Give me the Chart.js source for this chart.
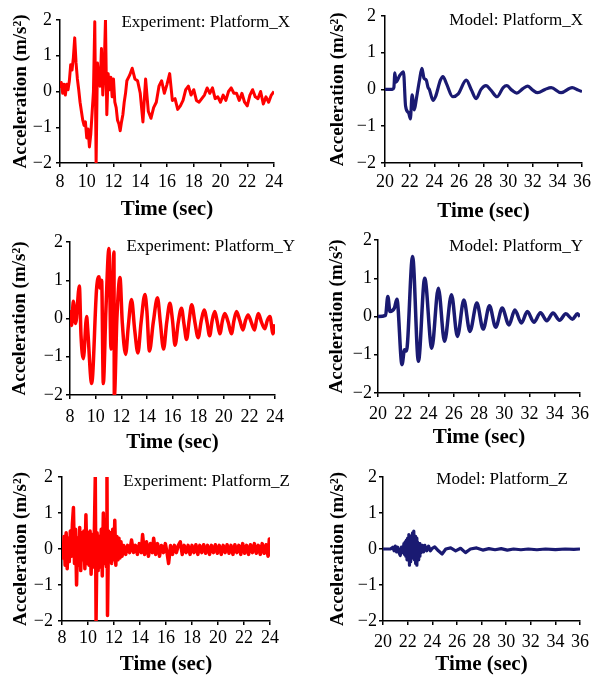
<!DOCTYPE html>
<html>
<head>
<meta charset="utf-8">
<script src="https://cdn.jsdelivr.net/npm/chart.js@4.4.0/dist/chart.umd.min.js"></script>
<style>
  html, body { margin: 0; padding: 0; background: #fff; }
  #wrap { position: relative; width: 595px; height: 680px; }
  canvas { position: absolute; }
</style>
</head>
<body>
<div id="wrap"></div>
<script>
// --- data ---
const expTicks = [8, 10, 12, 14, 16, 18, 20, 22, 24];
const modelTicks = [20, 22, 24, 26, 28, 30, 32, 34, 36];
const accelTicks = [-2, -1, 0, 1, 2];

const expXTime = [8.0,8.1,8.2,8.3,8.4,8.5,8.6,8.7,8.8,8.9,9.0,9.1,9.2,9.3,9.4,9.5,9.6,9.7,9.8,9.9,10.0,10.1,10.2,10.3,10.4,10.5,10.6,10.7,10.8,10.9,11.0,11.1,11.2,11.3,11.4,11.5,11.6,11.7,11.8,11.9,12.0,12.1,12.2,12.3,12.4,12.5,12.6,12.7,12.8,12.9,13.0,
  13.2,13.4,13.6,13.8,14.0,14.2,14.4,14.6,14.8,15.0,15.2,15.4,15.6,15.8,16.0,16.2,16.4,16.6,16.8,17.0,17.2,17.4,17.6,17.8,18.0,18.2,18.4,18.6,18.8,19.0,19.2,19.4,19.6,19.8,20.0,20.2,20.4,20.6,20.8,21.0,21.2,21.4,21.6,21.8,22.0,22.2,22.4,22.6,22.8,23.0,23.2,23.4,23.6,23.8,24.0];
const expXAccel = [0.1,0.25,-0.05,0.2,-0.1,0.2,0.05,0.3,0.75,0.6,0.95,1.5,0.8,0.35,0.05,-0.3,-0.55,-0.8,-0.95,-0.85,-1.3,-1.05,-1.55,-1.2,-0.6,0.0,1.95,-2.0,0.8,0.35,0.15,1.2,-0.1,0.6,2.0,-0.65,0.5,0.05,0.4,-0.15,0.35,-0.3,-0.45,-0.8,-0.9,-1.1,-0.85,-0.65,-0.3,-0.05,0.3,
  0.45,0.65,0.35,0.3,-0.05,-0.85,0.35,-0.55,-0.75,-0.45,-0.3,0.15,0.3,-0.05,0.2,0.5,-0.25,-0.2,-0.5,-0.4,-0.25,0.05,0.15,-0.1,0.05,-0.25,-0.3,-0.2,-0.1,0.1,-0.05,0.1,-0.2,-0.15,-0.3,-0.1,-0.25,0.0,0.1,-0.05,-0.05,-0.25,-0.05,-0.3,-0.4,-0.1,0.05,-0.15,-0.2,0.0,-0.35,-0.15,-0.3,-0.1,0.0];

const expYTime = [8.0,8.13,8.26,8.44,8.73,8.86,9.04,9.3,9.38,9.69,10.08,10.26,10.34,10.47,10.6,10.8,11.04,11.2,11.43,11.46,11.66,11.9,12.08,12.34,12.55,12.8,13.05,13.3,13.55,13.85,14.0,14.2,14.5,14.83,15.05,15.3,15.55,15.8,16.0,16.2,16.45,16.7,16.9,17.1,17.3,17.5,17.75,18.0,18.25,18.47,18.7,18.9,19.1,19.3,19.5,19.7,19.9,20.08,20.35,20.6,20.8,21.0,21.25,21.5,21.7,21.9,22.15,22.4,22.55,22.7,22.95,23.2,23.4,23.6,23.85,24.0];
const expYAccel = [0.22,-0.18,0.45,-0.13,0.85,-0.45,-1.05,0.05,-0.27,-1.7,0.8,1.09,0.8,1.0,-1.7,0.2,1.83,-0.8,1.74,-2.05,0.0,1.07,-0.1,-0.94,-0.2,0.5,-0.3,-0.9,-0.1,0.63,0.2,-0.85,-0.1,0.54,-0.1,-0.8,-0.1,0.4,-0.05,-0.7,-0.1,0.27,-0.15,-0.55,-0.05,0.36,-0.1,-0.5,-0.05,0.22,-0.1,-0.45,-0.05,0.18,-0.1,-0.4,-0.05,0.13,-0.1,-0.4,-0.05,0.18,-0.05,-0.3,-0.05,0.09,-0.1,-0.3,-0.05,0.13,-0.1,-0.27,-0.05,0.05,-0.4,-0.15];

const expZTime = [8.0,8.08,8.16,8.24,8.32,8.4,8.48,8.56,8.64,8.72,8.8,8.88,8.96,9.04,9.12,9.2,9.28,9.36,9.44,9.52,9.6,9.68,9.76,9.84,9.92,10.0,10.08,10.16,10.24,10.32,10.4,10.48,10.56,10.62,10.7,10.78,10.86,10.94,11.02,11.1,11.18,11.26,11.34,11.42,11.46,11.5,11.58,11.66,11.74,11.82,11.9,11.98,12.06,12.14,12.22,12.3,12.38,12.46,12.54,12.62,
  12.75,12.9,13.05,13.2,13.35,13.5,13.65,13.8,13.95,14.1,14.2,14.35,14.5,14.65,14.8,14.95,15.05,15.2,15.35,15.5,15.65,15.8,15.95,16.1,16.2,16.35,16.5,16.65,16.8,16.95,17.1,17.25,17.4,17.55,17.7,17.85,18.0,18.15,18.3,18.45,18.6,18.75,18.9,19.05,19.2,19.35,19.5,19.65,19.8,19.95,20.1,20.25,20.4,20.55,20.7,20.85,21.0,21.15,21.3,21.45,21.6,21.75,21.9,22.05,22.2,22.35,22.5,22.65,22.8,22.95,23.1,23.25,23.4,23.55,23.7,23.85,23.95,24.0];
const expZAccel = [0.2,-0.25,0.35,-0.45,0.45,-0.55,0.3,-0.35,0.5,-0.2,0.7,1.15,-0.4,0.55,-1.0,0.3,-0.45,0.6,-0.6,0.45,-0.3,0.5,-0.55,0.95,-0.4,0.45,-0.45,0.5,-0.7,0.4,-0.5,0.3,2.0,-2.0,0.45,-0.6,0.35,-0.5,0.55,-0.75,1.0,-0.4,0.6,-0.5,2.0,-1.85,0.5,-0.35,0.45,-0.4,0.55,-0.3,0.8,-0.45,0.35,-0.3,0.3,-0.25,0.2,-0.2,
  0.1,-0.15,0.1,-0.1,0.25,-0.1,0.1,-0.15,0.15,-0.1,0.4,-0.15,0.2,-0.2,0.15,-0.1,0.3,-0.15,0.15,-0.2,0.1,-0.1,0.15,-0.15,-0.4,0.1,-0.15,0.1,-0.1,0.1,0.2,-0.15,0.1,-0.1,0.1,-0.15,0.1,-0.1,0.12,-0.15,0.1,-0.1,0.12,-0.12,0.1,-0.15,0.1,-0.1,0.12,-0.12,0.1,-0.15,0.1,-0.1,0.12,-0.12,0.1,-0.15,0.12,-0.1,0.1,-0.15,0.15,-0.12,0.1,-0.15,0.12,-0.1,0.15,-0.12,0.1,-0.15,0.15,-0.12,0.12,-0.2,0.28,-0.2];

const modelXTime = [20.0,20.6,20.72,20.8,20.9,21.2,21.5,21.67,21.93,22.06,22.2,22.38,22.55,22.8,23.0,23.17,23.35,23.5,23.6,23.9,24.1,24.5,24.7,25.0,25.5,25.95,26.6,27.0,27.4,27.8,28.2,28.6,29.1,29.6,29.9,30.3,30.7,31.2,31.6,32.0,32.4,33.0,33.5,34.3,35.2,35.7,36.0];
const modelXAccel = [0,0,0.05,0.45,0.2,0.38,0.48,-0.45,-0.65,-0.8,-0.15,-0.56,-0.25,0.25,0.57,0.3,0.25,0.05,0.0,-0.3,-0.2,0.25,0.35,0.15,-0.2,-0.12,0.25,0.0,-0.25,0.0,0.1,-0.02,-0.2,0.05,0.1,-0.02,-0.1,0.02,0.09,-0.02,-0.09,0.0,0.05,-0.09,0.05,-0.02,-0.06];

const modelYTime = [20.0,20.6,20.78,20.95,21.3,21.5,21.9,22.1,22.25,22.74,23.2,23.7,24.26,24.78,25.27,25.82,26.29,26.8,27.28,27.83,28.33,28.83,29.32,29.84,30.37,30.84,31.36,31.83,32.35,32.87,33.37,33.86,34.38,34.88,35.4,35.8,36.0];
const modelYAccel = [0,0.03,0.52,0.13,0.22,0.45,-1.26,-0.87,-0.9,1.57,-1.17,1.0,-0.83,0.74,-0.65,0.57,-0.52,0.43,-0.39,0.35,-0.33,0.28,-0.28,0.22,-0.22,0.17,-0.17,0.13,-0.15,0.1,-0.11,0.09,-0.1,0.07,-0.07,0.07,0.0];

const modelZTime = [20.0,20.6,20.8,20.9,21.0,21.1,21.2,21.3,21.4,21.5,21.6,21.7,21.75,21.8,21.85,21.9,21.95,22.0,22.05,22.1,22.15,22.2,22.25,22.3,22.35,22.4,22.45,22.5,22.55,22.6,22.65,22.7,22.75,22.8,22.85,22.9,22.95,23.0,23.1,23.2,23.3,23.4,23.55,23.7,23.85,24.0,24.2,24.5,24.8,25.1,25.5,25.9,26.3,26.7,27.1,27.6,28.1,28.6,29.1,29.6,30.1,30.6,31.2,31.8,32.5,33.2,34.0,34.8,35.5,36.0];
const modelZAccel = [0,0,0.05,-0.05,0.08,-0.08,0.05,-0.1,-0.18,0.05,-0.1,0.15,-0.15,0.2,-0.2,0.25,-0.3,0.3,-0.2,0.4,-0.45,0.35,-0.35,0.3,-0.25,0.45,-0.2,0.5,-0.3,0.35,-0.4,0.3,-0.45,0.2,-0.3,0.15,-0.2,0.15,-0.1,0.1,-0.08,0.1,-0.05,0.08,-0.05,0.02,0.06,-0.05,-0.14,0.0,0.03,-0.05,0.02,-0.1,0.0,0.03,-0.03,0.01,-0.02,0.01,-0.03,0.0,-0.02,0.0,-0.02,0.0,-0.02,0.0,-0.01,0.0];

const RED = '#ff0000';
const NAVY = '#1a1a72';
const SERIF = "'Liberation Serif', 'Times New Roman', serif";

// layout of each panel on the page (canvas box + plot box)
const panels = [
  { label: 'Experiment: Platform_X', time: expXTime, accel: expXAccel, ticks: expTicks, color: RED, width: 3, smooth: false,
    box: [0, 0, 300, 225], pad: [20, 26], yw: 60, xh: 62, yPad: 4, xPad: 4, yTitle: 10, xTitle: 3, text: [290, 23] },
  { label: 'Model: Platform_X', time: modelXTime, accel: modelXAccel, ticks: modelTicks, color: NAVY, width: 3.2, smooth: true,
    box: [300, 0, 295, 225], pad: [15, 8], yw: 85, xh: 62, yPad: 5, xPad: 4, yTitle: 27, xTitle: 1, text: [283, 21] },
  { label: 'Experiment: Platform_Y', time: expYTime, accel: expYAccel, ticks: expTicks, color: RED, width: 3.5, smooth: true,
    box: [0, 225, 300, 230], pad: [17, 25], yw: 70, xh: 60, yPad: 3, xPad: 7, yTitle: 9, xTitle: 0, text: [295, 22] },
  { label: 'Model: Platform_Y', time: modelYTime, accel: modelYAccel, ticks: modelTicks, color: NAVY, width: 3.5, smooth: true,
    box: [300, 225, 295, 230], pad: [15, 12], yw: 78, xh: 62, yPad: 2, xPad: 6, yTitle: 26, xTitle: 5, text: [283, 22] },
  { label: 'Experiment: Platform_Z', time: expZTime, accel: expZAccel, ticks: expTicks, color: RED, width: 3.5, smooth: false,
    box: [0, 455, 300, 225], pad: [22, 30], yw: 62, xh: 59, yPad: 5, xPad: 2, yTitle: 10, xTitle: 3, text: [290, 27] },
  { label: 'Model: Platform_Z', time: modelZTime, accel: modelZAccel, ticks: modelTicks, color: NAVY, width: 3.2, smooth: false,
    box: [300, 455, 295, 225], pad: [22, 7], yw: 83, xh: 59, yPad: 2, xPad: 6, yTitle: 27, xTitle: 3, text: [268, 25] }
];

const minus = v => String(v).replace('-', '\u2212');

// writes the panel caption inside the plot, top right
const captionPlugin = {
  id: 'caption',
  afterDraw(chart, args, opts) {
    const ctx = chart.ctx;
    ctx.save();
    ctx.font = '17px ' + SERIF;
    ctx.fillStyle = '#000';
    ctx.textAlign = 'right';
    ctx.textBaseline = 'middle';
    ctx.fillText(opts.text, opts.x, opts.y);
    ctx.restore();
  }
};

const wrap = document.getElementById('wrap');

panels.forEach(p => {
  const cv = document.createElement('canvas');
  cv.width = p.box[2];
  cv.height = p.box[3];
  cv.style.left = p.box[0] + 'px';
  cv.style.top = p.box[1] + 'px';
  wrap.appendChild(cv);

  new Chart(cv.getContext('2d'), {
    type: 'line',
    data: {
      datasets: [{
        data: p.time.map((t, i) => ({ x: t, y: p.accel[i] })),
        borderColor: p.color,
        borderWidth: p.width,
        pointRadius: 0,
        tension: p.smooth ? 0.4 : 0,
        cubicInterpolationMode: p.smooth ? 'monotone' : 'default',
        borderJoinStyle: 'round'
      }]
    },
    options: {
      responsive: false,
      animation: false,
      devicePixelRatio: 1,
      layout: { padding: { top: p.pad[0], right: p.pad[1], left: 0, bottom: 0 } },
      plugins: {
        legend: { display: false },
        tooltip: { enabled: false },
        caption: { text: p.label, x: p.text[0], y: p.text[1] }
      },
      scales: {
        x: {
          type: 'linear',
          min: p.ticks[0],
          max: p.ticks[p.ticks.length - 1],
          afterBuildTicks: s => { s.ticks = p.ticks.map(v => ({ value: v })); },
          afterFit: s => { s.height = p.xh; },
          grid: { drawOnChartArea: false, drawTicks: true, tickLength: 4, color: '#000', lineWidth: 1.5 },
          border: { display: true, color: '#000', width: 1.5 },
          ticks: { color: '#000', padding: p.xPad, maxRotation: 0, autoSkip: false,
                   font: { family: SERIF, size: 18 }, callback: v => minus(v) },
          title: { display: true, text: 'Time (sec)', color: '#000',
                   font: { family: SERIF, size: 21, weight: 'bold' }, padding: { top: 0, bottom: p.xTitle } }
        },
        y: {
          min: -2,
          max: 2,
          afterBuildTicks: s => { s.ticks = accelTicks.map(v => ({ value: v })); },
          afterFit: s => { s.width = p.yw; },
          grid: { drawOnChartArea: false, drawTicks: true, tickLength: 4, color: '#000', lineWidth: 1.5 },
          border: { display: true, color: '#000', width: 1.5 },
          ticks: { color: '#000', padding: p.yPad, font: { family: SERIF, size: 18 }, callback: v => minus(v) },
          title: { display: true, text: 'Acceleration (m/s\u00b2)', color: '#000',
                   font: { family: SERIF, size: 19, weight: 'bold' }, padding: { top: p.yTitle, bottom: 0 } }
        }
      }
    },
    plugins: [captionPlugin]
  });
});
</script>
</body>
</html>
